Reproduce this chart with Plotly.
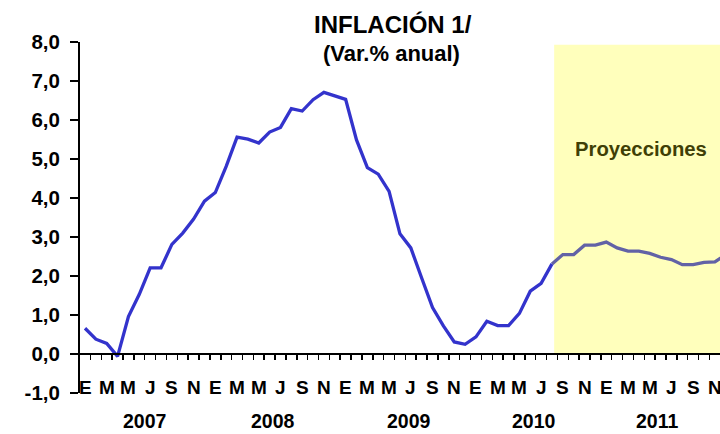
import plotly.graph_objects as go

# ---------------- data ----------------
mes_letras = ["E", "F", "M", "A", "M", "J", "J", "A", "S", "O", "N", "D"]
anios = ["2007", "2008", "2009", "2010", "2011"]

infl_2007 = [0.66, 0.38, 0.27, -0.06, 0.96, 1.53, 2.21, 2.21, 2.81, 3.10, 3.46, 3.92]
infl_2008 = [4.14, 4.81, 5.56, 5.51, 5.41, 5.69, 5.81, 6.29, 6.23, 6.52, 6.71, 6.63]
infl_2009 = [6.53, 5.49, 4.78, 4.61, 4.17, 3.08, 2.72, 1.95, 1.19, 0.72, 0.31, 0.25]
infl_2010_obs = [0.44, 0.84, 0.73, 0.73, 1.04, 1.61, 1.81, 2.31]
proyeccion = [2.55, 2.55, 2.79, 2.79, 2.87, 2.72, 2.64, 2.64, 2.58, 2.48, 2.42, 2.29,
              2.29, 2.35, 2.36, 2.55]

y_ticks = [-1, 0, 1, 2, 3, 4, 5, 6, 7, 8]
y_ticktext = ["-1,0", "0,0", "1,0", "2,0", "3,0", "4,0", "5,0", "6,0", "7,0", "8,0"]

historico = infl_2007 + infl_2008 + infl_2009 + infl_2010_obs
n_hist = len(historico)
n_total = n_hist + len(proyeccion)
x_hist = list(range(n_hist))
x_proj = list(range(n_hist - 1, n_total))
y_proj = [historico[-1]] + proyeccion

# ---------------- figure ----------------
FONT = "Arial, Liberation Sans, Helvetica, sans-serif"
fig = go.Figure()

fig.add_trace(go.Scatter(x=x_hist, y=historico, mode="lines",
                         line=dict(color="#3333CC", width=3.3), hoverinfo="skip"))
fig.add_trace(go.Scatter(x=x_proj, y=y_proj, mode="lines",
                         line=dict(color="#6262A6", width=3.3), hoverinfo="skip"))

# projection shading
fig.add_shape(type="rect", xref="x", yref="y", x0=n_hist - 0.8, x1=n_total + 2,
              y0=0, y1=7.93, fillcolor="#FFFFBC", line=dict(width=0), layer="below")

annotations = []
# month labels (every two months)
for i in range(0, n_total, 2):
    annotations.append(dict(x=i, y=-0.87, xref="x", yref="y", text=mes_letras[i % 12],
                            showarrow=False, xanchor="center", yanchor="middle",
                            font=dict(family=FONT, size=19, color="black", weight="bold")))
# year labels
year_pos = [5.5, 17.3, 29.85, 41.3, 52.65]
for yr, xp in zip(anios, year_pos):
    annotations.append(dict(x=xp, y=-0.1168, xref="x", yref="paper", text=yr, showarrow=False,
                            xanchor="center", yanchor="bottom",
                            font=dict(family=FONT, size=19.5, color="black", weight="bold")))
# projection label
annotations.append(dict(x=51.2, y=5.26, xref="x", yref="y", text="Proyecciones",
                        showarrow=False, xanchor="center", yanchor="middle",
                        font=dict(family=FONT, size=20.3, color="#3F3F06", weight="bold")))
# titles
annotations.append(dict(x=0.489, y=1.05, xref="paper", yref="paper", text="INFLACIÓN 1/",
                        showarrow=False, xanchor="center", yanchor="middle",
                        font=dict(family=FONT, size=24, color="black", weight="bold")))
annotations.append(dict(x=0.487, y=0.968, xref="paper", yref="paper", text="(Var.% anual)",
                        showarrow=False, xanchor="center", yanchor="middle",
                        font=dict(family=FONT, size=22, color="black", weight="bold")))

fig.update_layout(
    width=720, height=434,
    margin=dict(l=80, r=0, t=42, b=41),
    paper_bgcolor="white", plot_bgcolor="white",
    showlegend=False,
    annotations=annotations,
    xaxis=dict(range=[-0.46, 58.47], anchor="free", position=1 / 9,
               showline=True, linecolor="black", linewidth=2,
               ticks="outside", ticklen=5, tickwidth=1.5, tickcolor="black",
               tickvals=[i + 0.5 for i in range(n_total)], showticklabels=False,
               showgrid=False, zeroline=False),
    yaxis=dict(range=[-1, 8], tickvals=y_ticks, ticktext=y_ticktext,
               showline=True, linecolor="black", linewidth=2,
               ticks="outside", ticklen=8, tickwidth=2, tickcolor="black",
               ticklabelstandoff=6,
               tickfont=dict(family=FONT, size=20.5, color="black", weight="bold"),
               showgrid=False, zeroline=False),
)

fig.write_html("out.html", config={"displayModeBar": False, "staticPlot": True},
               post_script="document.body.style.margin='0';document.body.style.overflow='hidden';")
